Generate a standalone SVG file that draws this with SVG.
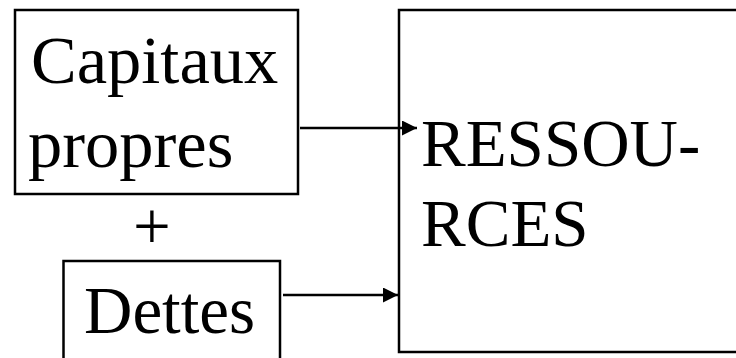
<svg xmlns="http://www.w3.org/2000/svg" width="736" height="358" viewBox="0 0 736 358">
<style>
.box{fill:#fff;stroke:#000;stroke-width:2.5}
.t{font-family:'Liberation Serif','Times New Roman',Times,'DejaVu Serif',serif;font-size:67px;fill:#000}
.big{font-size:68.5px}
.c{stroke:#000;stroke-width:2.5;fill:none}
</style>
<defs>
<marker id="ah" markerUnits="userSpaceOnUse" markerWidth="16" markerHeight="16" refX="15" refY="7.5" orient="auto">
<path d="M0,0 L15,7.5 L0,15 z" fill="#000"/>
</marker>
</defs>
<rect width="736" height="358" fill="#fff"/>
<g id="ressources">
<rect class="box" x="399" y="10" width="345" height="342"/>
<text class="t" x="421" y="166">RESSOU-</text>
<text class="t" x="421" y="246">RCES</text>
</g>
<g id="capitaux">
<rect class="box" x="15" y="10" width="283" height="184"/>
<text class="t big" x="31" y="83">Capitaux</text>
<text class="t big" x="28" y="167">propres</text>
</g>
<g id="plus">
<text class="t" x="133" y="249">+</text>
</g>
<g id="dettes">
<rect class="box" x="63.5" y="261" width="216.5" height="110"/>
<text class="t" x="84" y="333">Dettes</text>
</g>
<g id="connectors">
<line class="c" x1="300" y1="128" x2="417" y2="128" marker-end="url(#ah)"/>
<line class="c" x1="283" y1="295" x2="398" y2="295" marker-end="url(#ah)"/>
</g>
</svg>
